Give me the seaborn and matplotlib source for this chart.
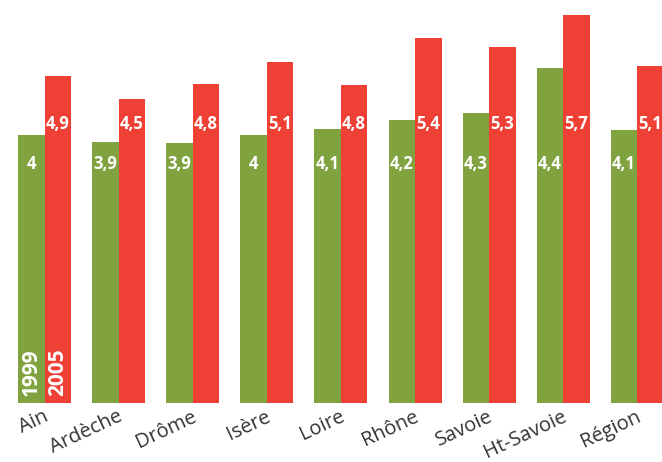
import matplotlib
matplotlib.use("Agg")
import matplotlib.pyplot as plt
import matplotlib.transforms as mtransforms
import seaborn as sns
import pandas as pd

# ---- data -------------------------------------------------------------
departements = ["Ain", "Ardèche", "Drôme", "Isère", "Loire", "Rhône",
                "Savoie", "Ht-Savoie", "Région"]
years = ["1999", "2005"]
# bar heights
heights_1999 = [4.0, 3.9, 3.88, 4.0, 4.09, 4.22, 4.33, 5.0, 4.07]
heights_2005 = [4.88, 4.54, 4.76, 5.09, 4.75, 5.45, 5.31, 5.79, 5.03]
# printed value labels
labels_1999 = ["4", "3,9", "3,9", "4", "4,1", "4,2", "4,3", "4,4", "4,1"]
labels_2005 = ["4,9", "4,5", "4,8", "5,1", "4,8", "5,4", "5,3", "5,7", "5,1"]

colors = {"1999": "#80A33F", "2005": "#EF4035"}

df = pd.DataFrame({
    "dept": departements * 2,
    "year": [years[0]] * len(departements) + [years[1]] * len(departements),
    "value": heights_1999 + heights_2005,
})

# ---- figure -----------------------------------------------------------
sns.set_theme(style="white")
plt.rcParams["font.family"] = ["Open Sans", "DejaVu Sans"]

W, H, DPI = 662, 462, 100
fig = plt.figure(figsize=(W / DPI, H / DPI), dpi=DPI)
px_unit = 74.07
left_px = 44.7 - 0.5 * px_unit
ax = fig.add_axes([left_px / W, 59 / H, 9 * px_unit / W, 403 / H])

sns.barplot(data=df, x="dept", y="value", hue="year", order=departements,
            hue_order=years, palette=colors, width=0.716, gap=0,
            saturation=1, legend=False, ax=ax, linewidth=0)

ax.set_xlim(-0.5, 8.5)
ax.set_ylim(0, 403 / 67)
ax.set_xlabel("")
ax.set_ylabel("")
ax.set_yticks([])
for s in ax.spines.values():
    s.set_visible(False)

# value labels at fixed heights inside the bars
n = len(departements)
bars = ax.patches
for i, p in enumerate(bars[:n]):
    ax.text(p.get_x() + p.get_width() / 2, 3.49, labels_1999[i],
            ha="center", va="baseline", color="white",
            fontsize=12, fontweight="bold")
for i, p in enumerate(bars[n:2 * n]):
    ax.text(p.get_x() + p.get_width() / 2, 4.094, labels_2005[i],
            ha="center", va="baseline", color="white",
            fontsize=12, fontweight="bold")

# year labels inside the first pair of bars
for p, yr in ((bars[0], years[0]), (bars[n], years[1])):
    ax.text(p.get_x() + p.get_width() / 2, 0.11, yr, rotation=90,
            ha="center", va="bottom", color="white",
            fontsize=15, fontweight="bold")

# rotated category labels (drawn as text, anchored at their right end)
ax.set_xticks(range(n))
ax.set_xticklabels([])
ax.tick_params(axis="x", length=0)
lab_tr = mtransforms.offset_copy(ax.get_xaxis_transform(), fig=fig,
                                 x=4.5, y=-17.5, units="dots")
for i, name in enumerate(departements):
    ax.text(i, 0, name, transform=lab_tr, rotation=25,
            rotation_mode="anchor", ha="right", va="baseline",
            fontsize=14.5, color="#333333", clip_on=False)

fig.savefig("out.png", dpi=DPI)
